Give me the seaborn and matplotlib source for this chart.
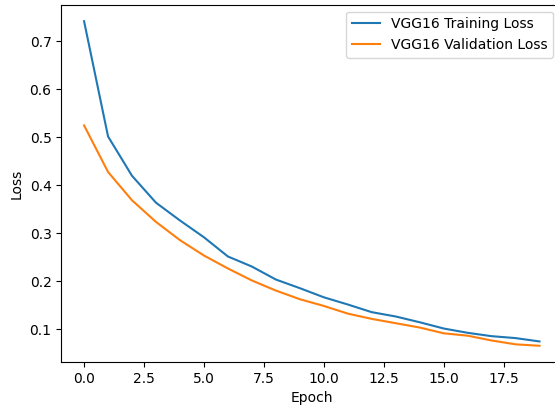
import matplotlib
matplotlib.use('Agg')
import matplotlib.pyplot as plt
import seaborn as sns
import pandas as pd

epochs = list(range(20))
train_loss = [0.742, 0.502, 0.420, 0.364, 0.327, 0.292, 0.252, 0.231, 0.204, 0.186,
              0.167, 0.152, 0.136, 0.127, 0.115, 0.102, 0.093, 0.086, 0.082, 0.075]
val_loss = [0.525, 0.428, 0.369, 0.324, 0.286, 0.254, 0.227, 0.202, 0.181, 0.163,
            0.149, 0.133, 0.122, 0.113, 0.104, 0.092, 0.087, 0.077, 0.069, 0.066]

df = pd.DataFrame({
    'Epoch': epochs * 2,
    'Loss': train_loss + val_loss,
    'Series': ['VGG16 Training Loss'] * 20 + ['VGG16 Validation Loss'] * 20,
})

fig = plt.figure(figsize=(5.55, 4.08), dpi=100)
# right spine sits just past the image edge, like the reference
ax = fig.add_axes([61.3 / 555, 46 / 408, 501 / 555, 357 / 408])
sns.lineplot(data=df, x='Epoch', y='Loss', hue='Series',
             palette=['#1f77b4', '#ff7f0e'], ax=ax)
ax.legend(loc='upper right', bbox_to_anchor=(553 / 555, 396.5 / 408),
          bbox_transform=fig.transFigure, borderaxespad=0)
ax.set_xlabel('Epoch')
ax.set_ylabel('Loss')
fig.savefig('out.png', dpi=100)
